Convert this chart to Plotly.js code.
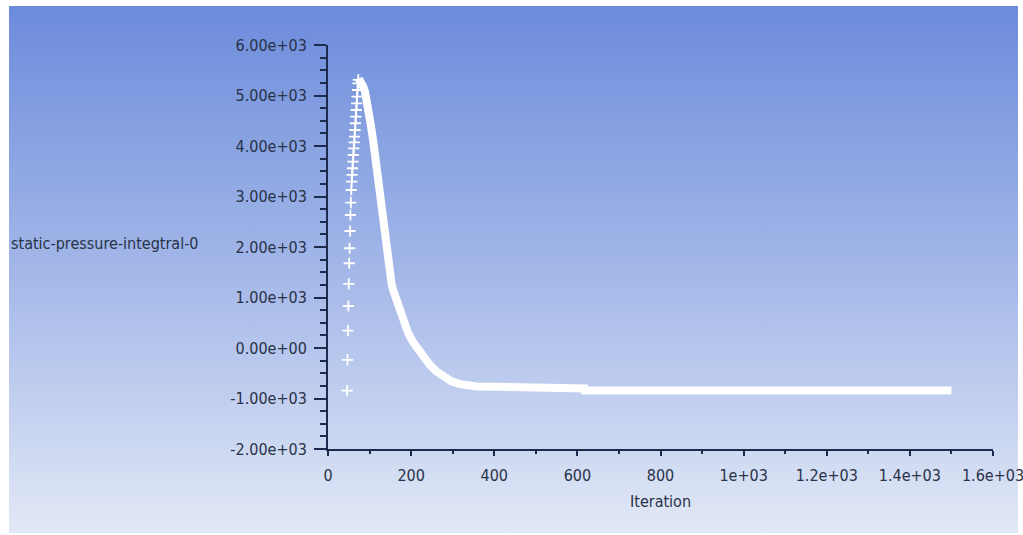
<!DOCTYPE html>
<html>
<head>
<meta charset="utf-8">
<script src="https://cdn.plot.ly/plotly-3.0.1.min.js"></script>
<style>
  html, body { margin:0; padding:0; background:#ffffff; }
  #wrap { position:relative; width:1023px; height:535px; overflow:hidden; }
  #bg { position:absolute; left:9px; top:6px; width:1009px; height:527px;
        background: linear-gradient(to bottom, #6c8bdc 0%, #88a2e1 25%, #a3b7e8 50%, #c2cfef 75%, #e2e9f6 100%); }
  #chart { position:absolute; left:0; top:0; width:1023px; height:535px; }
</style>
</head>
<body>
<div id="wrap"><div id="bg"></div><div id="chart"></div></div>
<script>
// ---- data ----
// rising part (one point per iteration, sparse markers)
const riseIter = [46,47,48,49,50,51,52,53,54,55,56,57,58,59,60,61,62,63,64,65,66,67,68,69,70,71,72,73];
const riseValue = [-845,-237,343,832,1268,1678,1975,2317,2634,2878,3129,3293,3430,3559,3690,3822,3954,4073,4185,4317,4450,4580,4713,4845,4976,5109,5242,5310];
// peak and decay part (dense markers forming a band)
const fallIter = [74,77,81,85,89,93,97,103,109,115,121,129,137,141,145,149,153,157,165,173,183,193,205,217,231,245,261,277,297,318,338,358,400,454,455,617,618,800,1000,1200,1400,1500];
const fallValue = [5330,5300,5242,5174,5075,4920,4747,4416,4085,3700,3200,2600,2073,1820,1600,1420,1270,1140,930,753,510,292,110,-39,-200,-336,-465,-568,-660,-715,-748,-762,-768,-770,-800,-800,-840,-840,-840,-840,-840,-840];

const xTickVals = [0,200,400,600,800,1000,1200,1400,1600];
const xTickText = ['0','200','400','600','800','1e+03','1.2e+03','1.4e+03','1.6e+03'];
const yTickVals = [-2000,-1000,0,1000,2000,3000,4000,5000,6000];
const yTickText = ['-2.00e+03','-1.00e+03','0.00e+00','1.00e+03','2.00e+03','3.00e+03','4.00e+03','5.00e+03','6.00e+03'];

const xTitle = 'Iteration';
const yTitle = 'static-pressure-integtral-0';

const FONT = '"DejaVu Sans Condensed", "Liberation Sans Narrow", sans-serif';
const AX = '#1c2a4e';
const TXT = '#283248';
const FS = 16;

const traces = [
  {
    x: riseIter, y: riseValue, type: 'scatter', mode: 'markers',
    marker: { symbol: 'cross-thin', size: 8, color: '#ffffff', line: { color: '#ffffff', width: 1.8 } },
    hoverinfo: 'x+y', showlegend: false
  },
  {
    x: fallIter, y: fallValue, type: 'scatter', mode: 'lines',
    line: { color: '#ffffff', width: 8 },
    hoverinfo: 'x+y', showlegend: false
  }
];

const layout = {
  width: 1023, height: 535,
  margin: { l: 328, r: 30, t: 45, b: 86 },
  paper_bgcolor: 'rgba(0,0,0,0)',
  plot_bgcolor: 'rgba(0,0,0,0)',
  showlegend: false,
  font: { family: FONT, color: TXT },
  xaxis: {
    range: [0, 1600], tickmode: 'array', tickvals: xTickVals, ticktext: xTickText,
    ticks: 'outside', ticklen: 5, tickwidth: 2, tickcolor: AX,
    showline: true, linecolor: AX, linewidth: 2,
    showgrid: false, zeroline: false,
    minor: { tick0: 0, dtick: 100, ticks: 'outside', ticklen: 3, tickwidth: 2, tickcolor: AX, showgrid: false },
    tickfont: { family: FONT, size: FS, color: TXT },
    ticklabelstandoff: 6,
    ticklabeloverflow: 'allow'
  },
  yaxis: {
    range: [-2000, 6000], tickmode: 'array', tickvals: yTickVals, ticktext: yTickText,
    ticks: 'outside', ticklen: 12, tickwidth: 2, tickcolor: AX,
    showline: true, linecolor: AX, linewidth: 2,
    showgrid: false, zeroline: false,
    minor: { tick0: 0, dtick: 250, ticks: 'outside', ticklen: 6, tickwidth: 2, tickcolor: AX, showgrid: false },
    tickfont: { family: FONT, size: FS, color: TXT },
    ticklabelstandoff: 4,
    ticklabeloverflow: 'allow'
  },
  annotations: [
    { text: yTitle, xref: 'paper', yref: 'paper', x: (9 - 328) / 665, y: 0.5, xanchor: 'left', yanchor: 'middle',
      yshift: 4, showarrow: false, font: { family: FONT, size: FS, color: TXT } },
    { text: xTitle, xref: 'paper', yref: 'paper', x: 0.5, y: -(502 - 449) / 404, xanchor: 'center', yanchor: 'middle',
      showarrow: false, font: { family: FONT, size: FS, color: TXT } }
  ]
};

Plotly.newPlot('chart', traces, layout, { displayModeBar: false, staticPlot: true });
</script>
</body>
</html>
